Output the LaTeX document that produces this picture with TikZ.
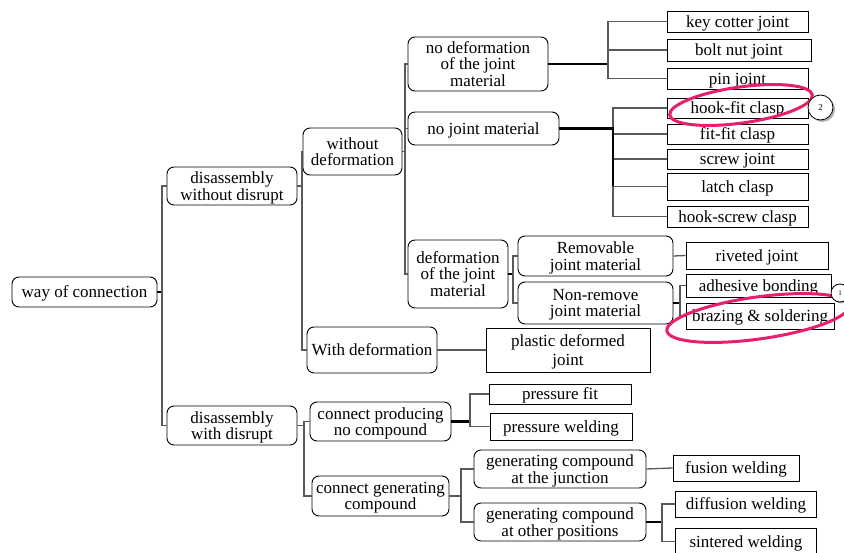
\documentclass[tikz,border=0pt]{standalone}
\usepackage{fontspec}
\setmainfont{Liberation Serif}
\definecolor{hilite}{RGB}{232,30,110}
\newcommand\boxfont{\fontsize{17}{16.3}\selectfont}
\begin{document}
\begin{tikzpicture}[x=1pt,y=-1pt,
  base/.style={draw=black, line width=0.9pt, inner sep=0pt, align=center, font=\boxfont, fill=white, text depth=0pt},
  rbox/.style={base, rounded corners=7pt},
  sbox/.style={base},
  wh/.style 2 args={minimum width=#1pt, minimum height=#2pt},
  conn/.style={draw=black!65, line width=1.3pt},
  trunk/.style={draw=black, line width=2.2pt},
  ring/.style={draw=hilite, line width=3pt},
  badge/.style={circle, draw=black, line width=0.8pt, fill=white, inner sep=0pt}
]
\fill[white] (0,0) rectangle (844,553);
\useasboundingbox (0,0) rectangle (844,553);

% rounded category boxes
\node[rbox, wh={145}{30}] (root) at (84.5,292) {way of connection};
\node[rbox, wh={130}{38}] (dwo) at (232,186) {disassembly\\without disrupt};
\node[rbox, wh={130}{39}] (dw) at (232,425.5) {disassembly\\with disrupt};
\node[rbox, wh={99}{47}] (wod) at (352.5,151.5) {without\\deformation};
\node[rbox, wh={130}{46}] (wd) at (372,350) {With deformation};
\node[rbox, wh={140}{54}] (nodef) at (478,64) {no deformation\\of the joint\\material};
\node[rbox, wh={151}{33}] (njm) at (483.5,128.5) {no joint material};
\node[rbox, wh={100}{68}] (def) at (458,274) {deformation\\of the joint\\material};
\node[rbox, wh={155}{40}] (rem) at (595.5,256) {Removable\\joint material};
\node[rbox, wh={155}{42}] (nonrem) at (595.5,303) {Non-remove\\joint material};
\node[rbox, wh={141}{39}] (cpn) at (380.5,421.5) {connect producing\\no compound};
\node[rbox, wh={137}{40}] (cgc) at (380.5,496) {connect generating\\compound};
\node[rbox, wh={172}{38}] (gcj) at (560,469) {generating compound\\at the junction};
\node[rbox, wh={172}{38}] (gco) at (560,522) {generating compound\\at other positions};

% square leaf boxes
\node[sbox, wh={141}{21}] (key) at (737.5,21.5) {key cotter joint};
\node[sbox, wh={144}{22}] (bolt) at (739,50) {bolt nut joint};
\node[sbox, wh={141}{21}] (pin) at (737.5,78.5) {pin joint};
\node[sbox, wh={141}{20}] (hookfit) at (737.5,108) {hook-fit clasp};
\node[sbox, wh={141}{20}] (fitfit) at (737.5,134) {fit-fit clasp};
\node[sbox, wh={141}{20}] (screw) at (737.5,159) {screw joint};
\node[sbox, wh={141}{27}] (latch) at (737.5,186.5) {latch clasp};
\node[sbox, wh={141}{21}] (hookscrew) at (737.5,216.5) {hook-screw clasp};
\node[sbox, wh={142}{27}] (riveted) at (757,255.5) {riveted joint};
\node[sbox, wh={145}{23}] (adhesive) at (758.5,285.5) {adhesive bonding};
\node[sbox, wh={148}{26}] (brazing) at (760,316) {brazing \& soldering};
\node[sbox, wh={164}{44}] (plastic) at (568,350) {plastic deformed\\[2pt]joint};
\node[sbox, wh={142}{20}] (pfit) at (560,394) {pressure fit};
\node[sbox, wh={142}{27}] (pweld) at (561,426.5) {pressure welding};
\node[sbox, wh={126}{26}] (fusion) at (736,468) {fusion welding};
\node[sbox, wh={141}{26}] (diffusion) at (746,504) {diffusion welding};
\node[sbox, wh={141}{27}] (sintered) at (746,541.5) {sintered welding};

% branching points
\coordinate (j0) at (162,292);
\coordinate (j1) at (302,186);
\coordinate (j2) at (405,151.5);
\coordinate (j3) at (608,64);
\coordinate (j4) at (613,128.5);
\coordinate (j5) at (513,274);
\coordinate (j6) at (680,303);
\coordinate (j7) at (304,425.5);
\coordinate (j8) at (470,421.5);
\coordinate (j9) at (461,496);
\coordinate (j10) at (662,522);

% tree connectors
\draw[trunk] (root.east) -- (j0);
\draw[conn] (j0) |- (dwo.west);
\draw[conn] (j0) |- (dw.west);

\draw[conn] (dwo.east) -- (j1);
\draw[conn] (j1) |- (wod.west);
\draw[conn] (j1) |- (wd.west);

\draw[conn] (wod.east) -- (j2);
\draw[conn] (j2) |- (nodef.west);
\draw[conn] (j2) |- (njm.west);
\draw[conn] (j2) |- (def.west);

\draw[trunk] (nodef.east) -- (j3);
\draw[conn] (j3) |- (key.west);
\draw[conn] (j3) |- (bolt.west);
\draw[conn] (j3) |- (pin.west);

\draw[conn] (j4) |- (hookfit.west);
\draw[conn] (j4) |- (fitfit.west);
\draw[conn] (j4) |- (screw.west);
\draw[conn] (j4) |- (latch.west);
\draw[conn] (j4) |- (hookscrew.west);
\draw[trunk] (njm.east) -- (j4) -- (j4 |- latch.west);

\draw[trunk] (def.east) -- (j5);
\draw[conn] (j5) |- (rem.west);
\draw[conn] (j5) |- (nonrem.west);

\draw[conn] (rem.east) -- (riveted.west);
\draw[trunk] (nonrem.east) -- (j6);
\draw[conn] (j6) |- (adhesive.west);
\draw[conn] (j6) |- (brazing.west);

\draw[conn] (wd.east) -- (plastic.west);

\draw[conn] (dw.east) -- (j7);
\draw[conn] (j7) |- (cpn.west);
\draw[conn] (j7) |- (cgc.west);

\draw[trunk] (cpn.east) -- (j8);
\draw[conn] (j8) |- (pfit.west);
\draw[conn] (j8) |- (pweld.west);

\draw[conn] (cgc.east) -- (j9);
\draw[conn] (j9) |- (gcj.west);
\draw[conn] (j9) |- (gco.west);

\draw[conn] (gcj.east) -- (fusion.west);
\draw[trunk] (gco.east) -- (j10);
\draw[conn] (j10) |- (diffusion.west);
\draw[conn] (j10) |- (sintered.west);

% highlight rings
\draw[ring, rotate around={8:(741,105)}] (741,105) ellipse [x radius=72pt, y radius=18pt];
\draw[ring, rotate around={8:(758,318)}] (758,318) ellipse [x radius=92pt, y radius=21pt];

% numbered badges with shadows
\fill[black!30] (822.5,109.5) circle (12.5pt);
\node[badge, minimum size=25pt, font=\fontsize{9}{9}\selectfont] (n2) at (820.5,107.5) {2};
\fill[black!30] (841.5,294.5) circle (9pt);
\node[badge, minimum size=18pt, font=\fontsize{7}{7}\selectfont] (n1) at (840,293) {1};
\end{tikzpicture}
\end{document}
